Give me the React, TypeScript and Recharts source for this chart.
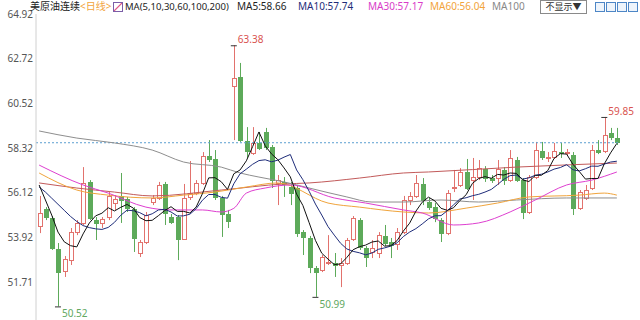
import React from "react";
import {
  Bar,
  ComposedChart,
  Line,
  ReferenceDot,
  ReferenceLine,
  XAxis,
  YAxis,
} from "recharts";

// daily candles, oldest first
const opens = [
  54.48, 55.32, 54.87, 53.34, 52.26, 52.8, 54.18, 54.63, 56.65, 54.77,
  54.63, 54.92, 55.61, 55.96, 55.81, 55.32, 53.15, 53.69, 55.66, 55.86,
  56.55, 54.92, 54.92, 53.84, 55.91, 56.1, 56.6, 57.93, 57.78, 55.86,
  55.07, 61.37, 61.82, 58.66, 58.07, 58.57, 59.11, 58.37, 56.6, 56.65,
  56.4, 56.35, 54.18, 53.89, 52.41, 52.31, 52.65, 52.65, 52.56, 52.65,
  53.84, 54.77, 53.39, 53.2, 53.15, 53.99, 53.69, 53.59, 54.18, 55.76,
  55.96, 56.55, 55.66, 55.41, 54.77, 54.13, 56.35, 56.5, 57.14, 56.74,
  56.89, 57.29, 56.84, 56.84, 57.24, 56.74, 57.73, 56.74, 55.17, 56.89,
  58.17, 57.83, 57.88, 58.12, 58.07, 57.98, 55.36, 55.86, 56.35, 58.22,
  58.17, 59.06, 58.81,
];
const highs = [
  55.96, 55.41, 54.97, 53.64, 53.0, 54.38, 54.77, 57.38, 56.74, 54.92,
  54.92, 56.15, 56.0, 57.09, 55.91, 55.41, 53.79, 55.17, 56.0, 56.65,
  56.65, 55.07, 55.02, 56.55, 57.68, 56.74, 58.12, 58.71, 58.22, 55.96,
  55.27, 63.38, 62.51, 59.35, 59.35, 59.11, 59.31, 58.47, 56.99, 56.89,
  56.65, 56.5, 54.28, 53.99, 52.51, 53.05, 54.03, 53.15, 52.9, 53.89,
  54.97, 54.87, 53.49, 53.79, 54.18, 54.53, 53.89, 54.38, 55.96, 56.15,
  56.99, 56.84, 55.86, 55.61, 54.87, 56.25, 57.24, 57.33, 57.78, 57.83,
  57.73, 57.43, 56.99, 57.73, 57.38, 58.22, 57.88, 56.84, 56.99, 58.62,
  58.62, 58.12, 58.57, 58.57, 58.27, 58.12, 56.25, 56.5, 58.47, 58.71,
  59.85, 59.31, 59.31,
];
const lows = [
  54.13, 54.77, 53.3, 50.52, 51.97, 52.56, 54.03, 54.53, 54.77, 53.79,
  54.38, 54.77, 55.27, 54.63, 55.17, 53.2, 52.95, 53.59, 55.51, 55.76,
  54.53, 54.58, 52.8, 53.79, 55.76, 56.0, 56.5, 57.63, 55.76, 53.94,
  54.38, 58.71, 58.62, 57.83, 57.98, 58.22, 58.22, 56.35, 55.51, 55.91,
  55.51, 53.94, 53.05, 52.16, 50.99, 52.21, 52.56, 51.97, 51.47, 52.56,
  53.74, 53.3, 52.46, 52.9, 52.9, 53.49, 52.9, 53.3, 54.08, 55.51,
  55.86, 55.51, 55.27, 54.67, 53.69, 54.03, 56.15, 56.4, 56.25, 55.76,
  56.74, 56.65, 56.6, 56.5, 56.5, 56.65, 56.65, 54.82, 55.07, 56.79,
  57.73, 57.63, 57.78, 57.83, 57.93, 55.02, 55.27, 55.76, 56.25, 58.02,
  58.07, 58.71, 58.47,
];
const closes = [
  55.12, 54.92, 53.39, 52.21, 52.85, 54.18, 54.63, 56.6, 54.87, 54.63,
  54.82, 55.96, 55.81, 55.76, 55.36, 53.89, 53.69, 55.02, 55.86, 56.5,
  55.12, 54.67, 53.84, 55.86, 56.1, 56.6, 57.93, 57.78, 55.91, 55.07,
  54.72, 61.77, 58.71, 58.17, 58.57, 58.32, 58.37, 56.74, 56.74, 56.55,
  56.1, 54.13, 53.94, 52.46, 52.21, 52.95, 52.7, 52.56, 52.65, 53.79,
  54.87, 53.44, 52.95, 53.39, 54.03, 53.64, 53.54, 54.18, 55.76, 55.96,
  56.6, 55.76, 55.41, 54.87, 54.13, 56.1, 56.4, 57.14, 56.35, 56.89,
  57.33, 56.84, 56.74, 57.29, 56.74, 57.83, 56.74, 55.17, 56.89, 58.22,
  57.88, 57.88, 58.17, 58.07, 58.12, 55.36, 56.15, 56.25, 58.22, 58.12,
  58.96, 58.86, 58.62,
];

// short moving averages, one value per candle
const ma5 = [
  56.5, 55.76, 55.02, 54.18, 53.7, 53.51, 53.45, 54.09, 54.63, 54.98,
  55.11, 55.38, 55.22, 55.4, 55.54, 55.36, 54.9, 54.74, 54.76, 54.99,
  55.24, 55.43, 55.2, 55.2, 55.12, 55.41, 56.07, 56.85, 56.86, 56.66,
  56.28, 57.05, 57.24, 57.69, 58.39, 59.11, 58.43, 58.03, 57.75, 57.34,
  56.9, 56.05, 55.49, 54.64, 53.77, 53.14, 52.85, 52.58, 52.61, 52.93,
  53.31, 53.46, 53.54, 53.69, 53.74, 53.49, 53.51, 53.76, 54.23, 54.62,
  55.21, 55.65, 55.9, 55.72, 55.35, 55.25, 55.38, 55.73, 56.02, 56.58,
  56.82, 56.91, 56.83, 57.02, 56.99, 57.09, 57.07, 56.75, 56.67, 56.97,
  56.98, 57.21, 57.81, 58.04, 58.02, 57.52, 57.17, 56.79, 56.82, 56.82,
  57.54, 58.08, 58.55,
];
const ma10 = [
  56.4, 56.15, 55.85, 55.55, 55.25, 54.95, 54.7, 54.5, 54.4, 54.34,
  54.31, 54.41, 54.66, 55.01, 55.26, 55.23, 55.14, 54.98, 55.08, 55.27,
  55.3, 55.17, 54.97, 54.98, 55.06, 55.33, 55.75, 56.03, 56.03, 55.89,
  55.85, 56.56, 57.05, 57.28, 57.52, 57.7, 57.74, 57.64, 57.72, 57.87,
  58.0, 57.24, 56.76, 56.19, 55.56, 55.02, 54.45, 54.03, 53.63, 53.35,
  53.23, 53.16, 53.06, 53.15, 53.33, 53.4, 53.49, 53.65, 53.96, 54.18,
  54.35, 54.58, 54.83, 54.98, 54.99, 55.23, 55.52, 55.81, 55.87, 55.97,
  56.04, 56.15, 56.28, 56.52, 56.78, 56.96, 56.99, 56.79, 56.85, 56.98,
  57.03, 57.14, 57.28, 57.36, 57.5, 57.25, 57.19, 57.3, 57.43, 57.42,
  57.53, 57.63, 57.67,
];

// long moving averages, read at [candle, value]
const ma30Pts: [number, number][] = [
  [1, 57.48], [8, 56.5], [12, 56.1], [18, 55.41], [22, 55.27], [27, 55.27],
  [30, 55.17], [32, 55.35], [34, 56.1], [37, 56.35], [41, 56.5], [48, 55.86],
  [53, 55.61], [59, 55.27], [62, 55.12], [67, 54.53], [71, 54.63], [76, 55.17],
  [80, 55.76], [85, 56.5], [89, 56.74], [93, 57.14],
];
const ma60Pts: [number, number][] = [
  [1, 57.09], [7, 56.25], [12, 56.0], [19, 55.86], [24, 56.0], [29, 56.15],
  [34, 56.4], [39, 56.6], [47, 55.61], [52, 55.41], [59, 55.17], [63, 55.12],
  [69, 55.36], [74, 55.61], [79, 55.91], [87, 56.0], [91, 56.1], [93, 56.0],
];
const ma100Pts: [number, number][] = [
  [1, 59.16], [7, 58.81], [13, 58.57], [19, 58.22], [24, 57.63], [30, 57.38],
  [33, 57.09], [36, 56.89], [40, 56.65], [44, 56.35], [50, 55.91], [54, 55.66],
  [59, 55.66], [65, 55.76], [71, 55.66], [77, 55.76], [85, 55.86], [93, 55.86],
];
const ma200Pts: [number, number][] = [
  [1, 56.6], [7, 56.35], [13, 56.15], [19, 55.96], [30, 56.25], [40, 56.55],
  [44, 56.6], [52, 56.84], [59, 57.09], [63, 57.14], [77, 57.38], [93, 57.58],
];

const yTicks = [64.92, 62.72, 60.52, 58.32, 56.12, 53.92, 51.71];
const lastPrice = 58.58;
const extremes = [
  { i: 32, v: 63.38, top: true },
  { i: 4, v: 50.52, top: false },
  { i: 45, v: 50.99, top: false },
  { i: 91, v: 59.85, top: true },
];

const RED = "#e2726d";
const GREEN = "#5daa5a";
const FONT = "'Noto Sans', 'Noto Sans CJK SC', sans-serif";

const pick = (pts: [number, number][]) => {
  const m = new Map(pts);
  return (i: number) => (m.has(i) ? m.get(i)! : null);
};
const m30 = pick(ma30Pts);
const m60 = pick(ma60Pts);
const m100 = pick(ma100Pts);
const m200 = pick(ma200Pts);

const data = closes.map((c, k) => {
  const i = k + 1;
  return {
    i,
    open: opens[k],
    high: highs[k],
    low: lows[k],
    close: c,
    range: [lows[k], highs[k]],
    ma5: ma5[k],
    ma10: ma10[k],
    ma30: m30(i),
    ma60: m60(i),
    ma100: m100(i),
    ma200: m200(i),
  };
});

const Candle = (props: any) => {
  const { x, y, width, height, payload } = props;
  if (!payload) return null;
  const { open, high, low, close } = payload;
  const top = Math.min(y, y + height);
  const h = Math.abs(height);
  const k = high === low ? 0 : h / (high - low);
  const yO = top + (high - open) * k;
  const yC = top + (high - close) * k;
  const up = close >= open;
  const color = up ? RED : GREEN;
  const cx = Math.round(x + width / 2) + 0.5;
  const bTop = Math.round(Math.min(yO, yC)) + 0.5;
  const bH = Math.max(1, Math.round(Math.abs(yO - yC)));
  return (
    <g>
      <line x1={cx} x2={cx} y1={top} y2={top + h} stroke={color} />
      <rect
        x={cx - 2}
        y={bTop}
        width={4}
        height={bH}
        fill={up ? "#fff" : GREEN}
        stroke={color}
      />
    </g>
  );
};

const extremeLabel = (text: string, top: boolean) => (p: any) => {
  const vb = p.viewBox || {};
  const x = vb.x + (vb.width || 0) / 2;
  const y = vb.y + (vb.height || 0) / 2;
  return (
    <g>
      <line x1={x - 3} x2={x + 3} y1={y + 0.5} y2={y + 0.5} stroke="#333" />
      <text
        x={x + 4}
        y={top ? y - 2 : y + 11}
        fill={top ? "#d9534f" : "#62a862"}
        fontSize={10}
        fontFamily={FONT}
      >
        {text}
      </text>
    </g>
  );
};

const hdr = (left: number, color: string, text: string, size = 10) => (
  <span
    style={{
      position: "absolute",
      left,
      top: 0,
      fontSize: size,
      lineHeight: "13px",
      color,
      whiteSpace: "nowrap",
    }}
  >
    {text}
  </span>
);

export default function App() {
  return (
    <div
      style={{
        position: "fixed",
        left: 0,
        top: 0,
        width: 640,
        height: 320,
        background: "#fff",
        overflow: "hidden",
        fontFamily: FONT,
      }}
    >
      <ComposedChart
        width={640}
        height={320}
        data={data}
        margin={{ top: 14, right: 20, left: 0, bottom: 0 }}
      >
        <XAxis dataKey="i" hide />
        <YAxis
          domain={[49.85, 64.92]}
          ticks={yTicks}
          interval={0}
          allowDataOverflow
          width={36}
          tickLine={false}
          tickSize={0}
          tickMargin={3}
          axisLine={{ stroke: "#d0d0d0" }}
          tick={{ fontSize: 10, fill: "#555", fontFamily: FONT }}
        />
        <ReferenceLine
          y={lastPrice}
          stroke="#5b9fd0"
          strokeDasharray="2 2"
        />
        <Bar
          dataKey="range"
          barSize={5}
          shape={<Candle />}
          isAnimationActive={false}
        />
        <Line type="monotone" dataKey="ma200" stroke="#c25a5a" strokeWidth={1} dot={false} activeDot={false} connectNulls isAnimationActive={false} />
        <Line type="monotone" dataKey="ma100" stroke="#8e8e8e" strokeWidth={1} dot={false} activeDot={false} connectNulls isAnimationActive={false} />
        <Line type="monotone" dataKey="ma60" stroke="#f0a43c" strokeWidth={1} dot={false} activeDot={false} connectNulls isAnimationActive={false} />
        <Line type="monotone" dataKey="ma30" stroke="#de3fd0" strokeWidth={1} dot={false} activeDot={false} connectNulls isAnimationActive={false} />
        <Line type="linear" dataKey="ma10" stroke="#1f2d7a" strokeWidth={1} dot={false} activeDot={false} isAnimationActive={false} />
        <Line type="linear" dataKey="ma5" stroke="#111" strokeWidth={1} dot={false} activeDot={false} isAnimationActive={false} />
        {extremes.map((e) => (
          <ReferenceDot
            key={e.i}
            x={e.i}
            y={e.v}
            r={0}
            fill="none"
            stroke="none"
            ifOverflow="visible"
            label={extremeLabel(e.v.toFixed(2), e.top)}
          />
        ))}
      </ComposedChart>

      {hdr(30, "#222", "美原油连续")}
      {hdr(80, "#f2a33a", "<日线>")}
      <span
        style={{
          position: "absolute",
          left: 113,
          top: 2,
          width: 8,
          height: 8,
          border: "1px solid #7b5ea8",
          background: "linear-gradient(135deg, #fff 40%, #e05a8a 50%, #fff 60%)",
        }}
      />
      {hdr(125, "#222", "MA(5,10,30,60,100,200)", 9.5)}
      {hdr(237, "#222", "MA5:58.66")}
      {hdr(298, "#1f2d7a", "MA10:57.74")}
      {hdr(368, "#d93cc8", "MA30:57.17")}
      {hdr(430, "#f2a33a", "MA60:56.04")}
      {hdr(492, "#888", "MA100")}

      <span
        style={{
          position: "absolute",
          left: 540,
          top: 0,
          width: 45,
          height: 12,
          border: "1px solid #8a8a8a",
          fontSize: 9,
          lineHeight: "12px",
          textAlign: "center",
          color: "#333",
        }}
      >
        不显示▼
      </span>
      {[595, 606, 617, 628].map((l) => (
        <span
          key={l}
          style={{
            position: "absolute",
            left: l,
            top: 2,
            width: 8,
            height: 8,
            border: "1px solid #4d86c6",
            background: "#eef4fb",
          }}
        />
      ))}
    </div>
  );
}
